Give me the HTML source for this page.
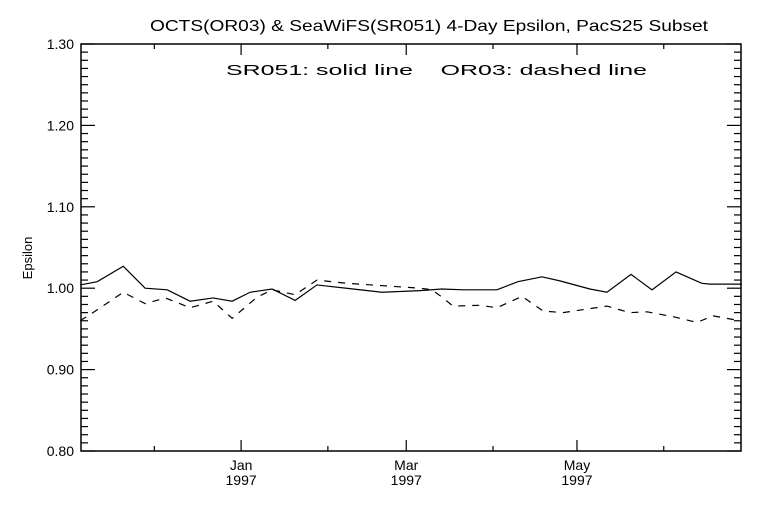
<!DOCTYPE html>
<html><head><meta charset="utf-8"><style>
body{margin:0;background:#fff}
svg text{font-family:"Liberation Sans",sans-serif;fill:#000}
</style></head><body>
<svg id="chart" width="768" height="512" viewBox="0 0 768 512" xmlns="http://www.w3.org/2000/svg">
<rect width="768" height="512" fill="#fff"/>
<text x="150" y="31" font-size="16" textLength="558" lengthAdjust="spacingAndGlyphs">OCTS(OR03) &amp; SeaWiFS(SR051) 4-Day Epsilon, PacS25 Subset</text>
<text x="226" y="75" font-size="15" xml:space="preserve" textLength="421" lengthAdjust="spacingAndGlyphs">SR051: solid line    OR03: dashed line</text>
<text transform="translate(32,258) rotate(-90)" font-size="13" text-anchor="middle">Epsilon</text>
<g id="axes"></g>
<g id="series"></g>
</svg>
<script>
const yTicks=[0.80,0.90,1.00,1.10,1.20,1.30];
const yTickLabels=["0.80","0.90","1.00","1.10","1.20","1.30"];
const xMajorDays=[0,59,120];
const xMajorLabels=["Jan","Mar","May"];
const xMajorYears=["1997","1997","1997"];
const xMinorDays=[-31,31,90,151];
const solidDays=[-57.5,-51.4,-42.1,-34.3,-26.4,-18.2,-10,-3.2,3.2,11.1,19.3,27.1,40,50.4,63.9,71.8,79.3,91.4,98.9,107.5,113.9,124.6,130.7,139.3,146.8,155.4,164.6,167.5,178.9];
const solidVals=[1.004,1.008,1.027,1.000,0.998,0.984,0.988,0.984,0.995,0.999,0.985,1.004,0.999,0.995,0.997,0.999,0.998,0.998,1.008,1.014,1.009,0.999,0.995,1.017,0.998,1.020,1.006,1.005,1.005];
const dashDays=[-57.5,-52.9,-42.1,-34.3,-27.1,-18.2,-10,-3.2,5.7,11.1,19.3,27.1,37.9,63.9,68.2,71.8,75.7,85.4,91.4,100.4,107.9,115,130.7,138.9,145,154.3,162.9,168.6,178.2];
const dashVals=[0.960,0.970,0.995,0.981,0.988,0.976,0.984,0.963,0.989,0.998,0.992,1.010,1.006,1.000,0.998,0.989,0.978,0.979,0.976,0.990,0.972,0.970,0.978,0.970,0.971,0.965,0.958,0.966,0.960];

const L=81,R=741,T=44,B=451,d0=-57.2,d1=178.6,v0=0.80,v1=1.30;
const X=d=>L+(d-d0)/(d1-d0)*(R-L);
const Y=v=>B-(v-v0)/(v1-v0)*(B-T);
const NS="http://www.w3.org/2000/svg";
function mk(tag,attrs,parent){const e=document.createElementNS(NS,tag);for(const k in attrs)e.setAttribute(k,attrs[k]);parent.appendChild(e);return e;}
const ax=document.getElementById('axes');
const frame=mk('rect',{x:L,y:T,width:R-L,height:B-T,fill:'none',stroke:'#000','stroke-width':1.5},ax);


for(let i=0;i<=50;i++){const v=v0+i*0.01;const y=Y(v);const major=i%10===0;const len=major?14:7;
 const t1=mk('line',{x1:L,x2:L+len,y1:y,y2:y,stroke:'#000','stroke-width':1.2},ax);
 
 
 const t2=mk('line',{x1:R,x2:R-len,y1:y,y2:y,stroke:'#000','stroke-width':1.2},ax);
 
 }
yTicks.forEach((v,i)=>{const t=mk('text',{x:L-7,y:Y(v)+5,'font-size':14,'text-anchor':'end'},ax);t.textContent=yTickLabels[i];
 
 });
xMajorDays.forEach((d,i)=>{const x=X(d);
 const a=mk('line',{x1:x,x2:x,y1:B,y2:B-11,stroke:'#000','stroke-width':1.2},ax);
 
 
 const b=mk('line',{x1:x,x2:x,y1:T,y2:T+11,stroke:'#000','stroke-width':1.2},ax);
 
 
 const t=mk('text',{x:x,y:B+19,'font-size':14,'text-anchor':'middle'},ax);t.textContent=xMajorLabels[i];
 
 
 const t2=mk('text',{x:x,y:B+34,'font-size':14,'text-anchor':'middle'},ax);t2.textContent=xMajorYears[i];
 
 });
xMinorDays.forEach(d=>{const x=X(d);
 const a=mk('line',{x1:x,x2:x,y1:B,y2:B-5,stroke:'#000','stroke-width':1.2},ax);
 
 
 const b=mk('line',{x1:x,x2:x,y1:T,y2:T+5,stroke:'#000','stroke-width':1.2},ax);
 
 });
const sg=document.getElementById('series');
const p1=mk('polyline',{points:solidDays.map((d,i)=>X(d)+','+Y(solidVals[i])).join(' '),fill:'none',stroke:'#000','stroke-width':1.2},sg);


const p2=mk('polyline',{points:dashDays.map((d,i)=>X(d)+','+Y(dashVals[i])).join(' '),fill:'none',stroke:'#000','stroke-width':1.2,'stroke-dasharray':'7,7'},sg);


</script>
</body></html>
